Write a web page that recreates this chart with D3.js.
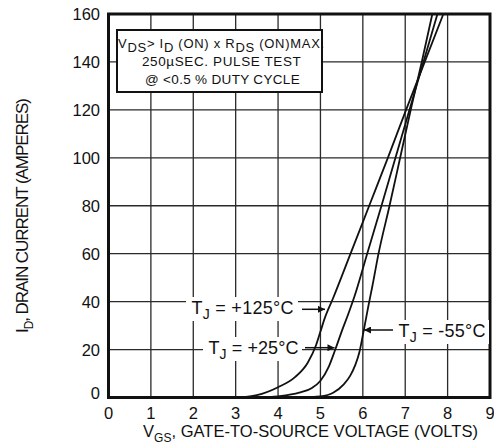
<!DOCTYPE html>
<html>
<head>
<meta charset="utf-8">
<script src="https://cdn.jsdelivr.net/npm/d3@7"></script>
<style>
  html, body { margin: 0; padding: 0; background: #fff; }
  svg { display: block; font-family: "Liberation Sans", Arial, Helvetica, sans-serif; }
</style>
</head>
<body>
<svg id="chart" width="494" height="448"></svg>
<script>
// ---- data ----
const xTicks = [0, 1, 2, 3, 4, 5, 6, 7, 8, 9];
const yTicks = [0, 20, 40, 60, 80, 100, 120, 140, 160];

// VGS (V), ID (A)
const tj125 = [[3.0,0],[3.5,1],[4.0,4.3],[4.4,8.5],[4.7,14.5],[4.9,22],[5.0,27.5],[5.1,33],[5.3,41.5],[5.71,60],[6.15,80],[6.59,100],[7.02,120],[7.46,140],[7.9,160]];
const tj25  = [[3.5,0],[4.0,0.5],[4.5,2],[4.8,4],[5.0,7],[5.2,13],[5.35,20],[5.5,27.5],[5.65,34.5],[5.8,42],[6.12,61],[6.44,80],[6.77,100],[7.1,120],[7.43,140],[7.76,160]];
const tjm55 = [[4.5,0],[5.0,0.5],[5.3,2],[5.55,5.5],[5.7,9],[5.82,13.5],[5.92,19],[6.0,26],[6.07,32.5],[6.14,39],[6.22,46],[6.37,60],[6.63,80],[6.88,100],[7.13,120],[7.39,140],[7.64,160]];

const curveLabels = [
  {t: "+125°C", series: "tj125"},
  {t: "+25°C",  series: "tj25"},
  {t: "-55°C",  series: "tjm55"}
];

// ---- drawing ----
const svg = d3.select("#chart");
const x = d3.scaleLinear().domain([0, 9]).range([108.5, 490]);
const y = d3.scaleLinear().domain([0, 160]).range([397.5, 14]);

// fit text to a target length via letter-spacing
function fitText(sel, target) {
  const n = sel.text().length;
  const w = sel.node().getComputedTextLength();
  sel.style("letter-spacing", ((target - w) / (n - 1)).toFixed(2) + "px");
}

// grid
const grid = svg.append("g");
grid.selectAll("line.v").data(xTicks.slice(1, -1)).join("line")
  .attr("x1", d => x(d)).attr("x2", d => x(d))
  .attr("y1", y(160)).attr("y2", y(0))
  .attr("stroke", "#2a2a2a").attr("stroke-width", 1.3);
grid.selectAll("line.h").data(yTicks.slice(1, -1)).join("line")
  .attr("y1", d => y(d)).attr("y2", d => y(d))
  .attr("x1", x(0)).attr("x2", x(9))
  .attr("stroke", "#2a2a2a").attr("stroke-width", 1.3);

// curves
const line = d3.line().x(d => x(d[0])).y(d => y(d[1])).curve(d3.curveMonotoneX);
[tj125, tj25, tjm55].forEach(s => {
  svg.append("path").attr("d", line(s)).attr("fill", "none")
    .attr("stroke", "#111").attr("stroke-width", 1.8);
});

// frame
svg.append("rect").attr("x", x(0)).attr("y", y(160))
  .attr("width", x(9) - x(0)).attr("height", y(0) - y(160))
  .attr("fill", "none").attr("stroke", "#111").attr("stroke-width", 3);

// tick labels
svg.append("g").selectAll("text").data(xTicks).join("text")
  .attr("x", d => x(d)).attr("y", 419)
  .attr("text-anchor", "middle").attr("font-size", 16.5).attr("fill", "#111")
  .text(d => d);
svg.append("g").selectAll("text").data(yTicks).join("text")
  .attr("x", 100).attr("y", d => y(d) + 6 - (d === 0 ? 5 : 0))
  .attr("text-anchor", "end").attr("font-size", 16.5).attr("fill", "#111")
  .text(d => d);

// axis titles
const xt = svg.append("text").attr("x", 143).attr("y", 437)
  .attr("font-size", 16.5).attr("fill", "#111");
xt.append("tspan").text("V");
xt.append("tspan").attr("font-size", 12).attr("dy", 5).text("GS");
xt.append("tspan").attr("dy", -5).text(", GATE-TO-SOURCE VOLTAGE (VOLTS)");
fitText(xt, 335);

const yt = svg.append("text").attr("transform", "translate(28,333) rotate(-90)")
  .attr("font-size", 17).attr("fill", "#111");
yt.append("tspan").text("I");
yt.append("tspan").attr("font-size", 12).attr("dy", 5).text("D");
yt.append("tspan").attr("dy", -5).text(", DRAIN CURRENT (AMPERES)");
fitText(yt, 235);

// condition box
svg.append("rect").attr("x", 117).attr("y", 30).attr("width", 205).attr("height", 62)
  .attr("fill", "#fff").attr("stroke", "#111").attr("stroke-width", 2);
const l1 = svg.append("text").attr("x", 118).attr("y", 48).attr("font-size", 13).attr("fill", "#111");
l1.append("tspan").text("V");
l1.append("tspan").attr("dy", 4).text("DS");
l1.append("tspan").attr("dy", -4).text("> I");
l1.append("tspan").attr("dy", 4).text("D");
l1.append("tspan").attr("dy", -4).text(" (ON) x  R");
l1.append("tspan").attr("dy", 4).text("DS");
l1.append("tspan").attr("dy", -4).text(" (ON)MAX.");
fitText(l1, 207);
const l2 = svg.append("text").attr("x", 142).attr("y", 66)
  .attr("font-size", 13.5).attr("fill", "#111")
  .text("250µSEC.  PULSE  TEST");
fitText(l2, 160);
const l3 = svg.append("text").attr("x", 145).attr("y", 84)
  .attr("font-size", 13.5).attr("fill", "#111")
  .text("@  <0.5 % DUTY CYCLE");
fitText(l3, 155);

// curve labels with arrows
const defs = svg.append("defs");
defs.append("marker").attr("id", "ah").attr("viewBox", "0 0 10 10")
  .attr("refX", 10).attr("refY", 5).attr("markerWidth", 9).attr("markerHeight", 7)
  .attr("markerUnits", "userSpaceOnUse").attr("orient", "auto")
  .append("path").attr("d", "M0,0 L10,5 L0,10 z").attr("fill", "#111");

const labelPos = {
  tj125: {lx: 191.5, ly: 313.5, w: 102, bg: [186, 297, 112, 24], ax1: 302, ax2: 325, ay: 309.3},
  tj25:  {lx: 208.5, ly: 354,   w: 90,  bg: [203, 337, 99, 24],  ax1: 305, ax2: 334.5, ay: 347.7},
  tjm55: {lx: 398.5, ly: 337,   w: 87,  bg: [393, 320, 96, 24],  ax1: 393, ax2: 364, ay: 330}
};
curveLabels.forEach(c => {
  const p = labelPos[c.series];
  svg.append("rect").attr("x", p.bg[0]).attr("y", p.bg[1]).attr("width", p.bg[2]).attr("height", p.bg[3])
    .attr("fill", "#fff");
  const t = svg.append("text").attr("x", p.lx).attr("y", p.ly).attr("font-size", 18).attr("fill", "#111");
  t.append("tspan").text("T");
  t.append("tspan").attr("font-size", 14).attr("dy", 5).text("J");
  t.append("tspan").attr("dy", -5).text(" = " + c.t);
  fitText(t, p.w);
  svg.append("line").attr("x1", p.ax1).attr("x2", p.ax2).attr("y1", p.ay).attr("y2", p.ay)
    .attr("stroke", "#111").attr("stroke-width", 1.5).attr("marker-end", "url(#ah)");
});
</script>
</body>
</html>
